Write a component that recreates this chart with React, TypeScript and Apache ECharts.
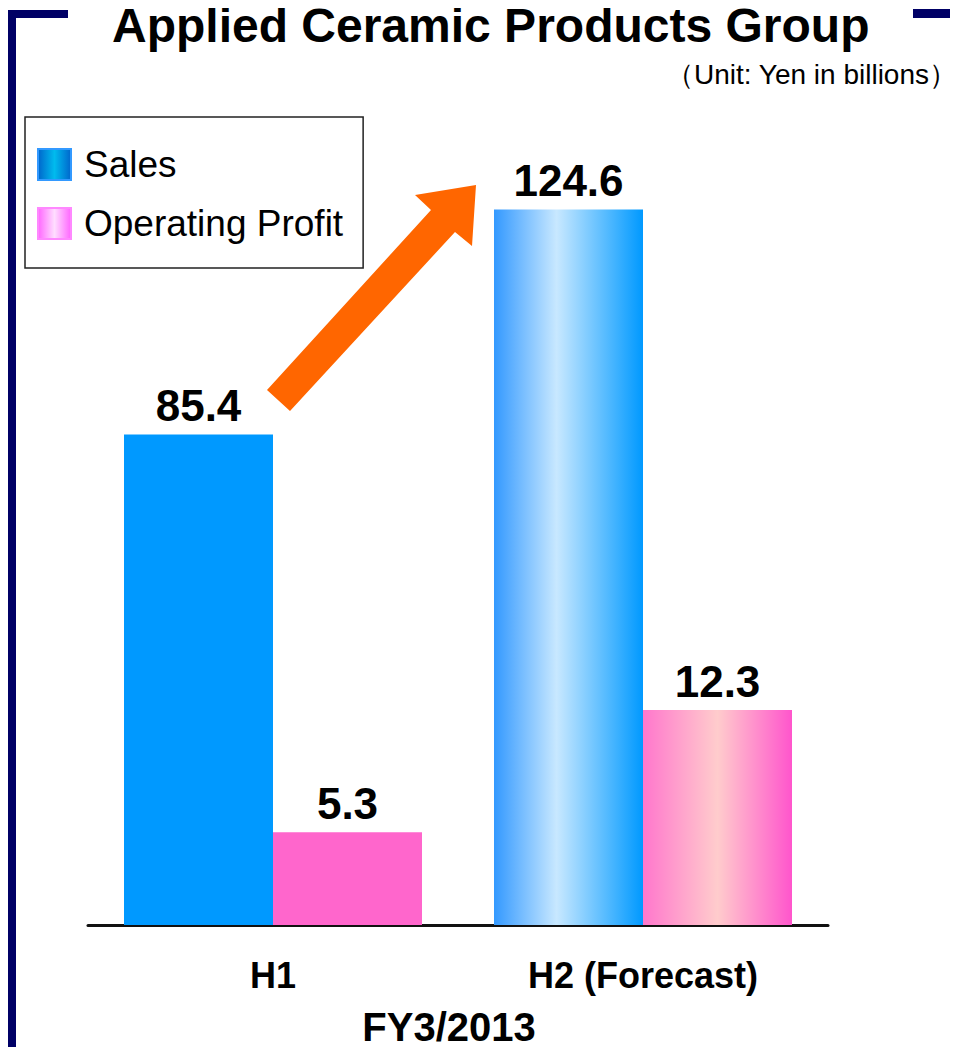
import React, { useEffect, useRef } from "react";
import * as echarts from "echarts";

const categories = ["H1", "H2 (Forecast)"];
const salesValues = [85.4, 124.6];
const profitValues = [5.3, 12.3];
const seriesNames = ["Sales", "Operating Profit"];
const titleText = "Applied Ceramic Products Group";
const unitText = "（Unit: Yen in billions）";
const periodLabel = "FY3/2013";

export default function App() {
  const ref = useRef<HTMLDivElement>(null);
  useEffect(() => {
    if (!ref.current) return;
    const chart = echarts.init(ref.current, null, { renderer: "svg" });
    const salesGrad = new echarts.graphic.LinearGradient(0, 0, 1, 0, [
      { offset: 0, color: "#3399FF" },
      { offset: 0.42, color: "#C8E8FF" },
      { offset: 1, color: "#0099FF" },
    ]);
    const profitGrad = new echarts.graphic.LinearGradient(0, 0, 1, 0, [
      { offset: 0, color: "#FF77CC" },
      { offset: 0.5, color: "#FFCCCC" },
      { offset: 1, color: "#FF55CC" },
    ]);
    const font = "'Liberation Sans', Arial, sans-serif";
    const labelStyle = {
      show: true,
      position: "top",
      distance: 7,
      fontSize: 44,
      fontWeight: "bold",
      color: "#000",
      fontFamily: font,
    };
    chart.setOption({
      animation: false,
      backgroundColor: "#fff",
      title: {
        text: titleText,
        left: 112,
        top: 1,
        padding: 0,
        textStyle: { fontSize: 48, fontWeight: "bold", color: "#000", fontFamily: font, lineHeight: 48 },
      },
      legend: {
        orient: "vertical",
        left: 25,
        top: 117,
        padding: [29, 20, 26, 12],
        itemGap: 22,
        itemWidth: 33,
        itemHeight: 31,
        borderColor: "#222",
        borderWidth: 1.5,
        borderRadius: 0,
        textStyle: { fontSize: 37, color: "#000", fontFamily: font, lineHeight: 31, padding: [0, 0, 0, 8] },
        icon: "rect",
        data: [
          {
            name: seriesNames[0],
            itemStyle: {
              color: new echarts.graphic.LinearGradient(0, 0, 1, 0, [
                { offset: 0, color: "#0066CC" },
                { offset: 0.5, color: "#00BBEE" },
                { offset: 1, color: "#0066CC" },
              ]),
              borderColor: "#3399FF",
              borderWidth: 2,
            },
          },
          {
            name: seriesNames[1],
            itemStyle: {
              color: new echarts.graphic.LinearGradient(0, 0, 1, 0, [
                { offset: 0, color: "#FF66FF" },
                { offset: 0.5, color: "#FFDDFF" },
                { offset: 1, color: "#FF66FF" },
              ]),
              borderColor: "#FF88FF",
              borderWidth: 2,
            },
          },
        ],
      },
      grid: { left: 88, right: 130, top: 121, bottom: 130 },
      xAxis: {
        type: "category",
        data: categories,
        axisLine: { show: true, lineStyle: { color: "#111", width: 3 } },
        axisTick: { show: false },
        axisLabel: {
          margin: 32,
          fontSize: 36,
          fontWeight: "bold",
          color: "#000",
          fontFamily: font,
        },
        name: periodLabel,
        nameLocation: "middle",
        nameGap: 82,
        nameTextStyle: {
          fontSize: 40,
          fontWeight: "bold",
          color: "#000",
          fontFamily: font,
          padding: [0, 18, 0, 0],
        },
      },
      yAxis: [
        { type: "value", min: 0, max: 140, show: false, splitLine: { show: false } },
        { type: "value", min: 0, max: 46, show: false, splitLine: { show: false } },
      ],
      series: [
        {
          name: seriesNames[0],
          type: "bar",
          yAxisIndex: 0,
          barWidth: 149,
          barGap: "0%",
          itemStyle: { color: salesGrad },
          label: labelStyle,
          data: salesValues.map((v, i) =>
            i === 0 ? { value: v, itemStyle: { color: "#0099FF" } } : v
          ),
        },
        {
          name: seriesNames[1],
          type: "bar",
          yAxisIndex: 1,
          barWidth: 149,
          barGap: "0%",
          itemStyle: { color: profitGrad },
          label: labelStyle,
          data: profitValues.map((v, i) =>
            i === 0 ? { value: v, itemStyle: { color: "#FF66CC" } } : v
          ),
        },
      ],
      graphic: [
        { type: "rect", shape: { x: 8, y: 10, width: 8, height: 1045 }, style: { fill: "#000066" } },
        { type: "rect", shape: { x: 8, y: 10, width: 60, height: 8, r: [4, 0, 0, 0] }, style: { fill: "#000066" } },
        { type: "rect", shape: { x: 913, y: 9, width: 45, height: 9 }, style: { fill: "#000066" } },
        {
          type: "polygon",
          shape: {
            points: [
              [267, 390],
              [431, 210],
              [415, 195],
              [476, 185],
              [472, 246],
              [455, 232],
              [290, 411],
            ],
          },
          style: { fill: "#FF6600" },
        },
        {
          type: "text",
          x: 957,
          y: 60,
          style: {
            text: unitText,
            fontSize: 28,
            fill: "#000",
            fontFamily: font,
            textAlign: "right",
            textVerticalAlign: "top",
          },
        },
      ],
    });
    return () => chart.dispose();
  }, []);
  return <div ref={ref} style={{ width: 958, height: 1055, margin: -8 }} />;
}
